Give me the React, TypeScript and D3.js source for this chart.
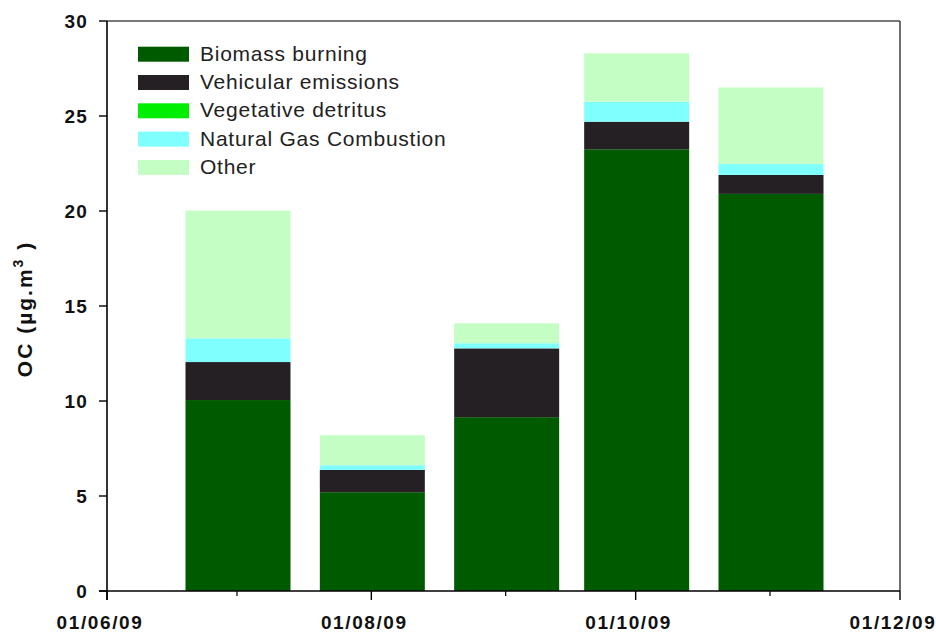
import React from 'react';
import * as d3 from 'd3';

// Sampling dates (one stacked bar per month)
const sampleDates = ['2009-07-01', '2009-08-01', '2009-09-01', '2009-10-01', '2009-11-01'];

// Source contributions to organic carbon (µg/m³)
const biomassBurning = [10.05, 5.2, 9.15, 23.25, 20.9];
const vehicularEmissions = [2.0, 1.17, 3.62, 1.45, 1.0];
const vegetativeDetritus = [0, 0, 0, 0, 0];
const naturalGasCombustion = [1.25, 0.25, 0.27, 1.05, 0.57];
const otherSources = [6.72, 1.58, 1.05, 2.55, 4.03];

const seriesNames = [
  'Biomass burning',
  'Vehicular emissions',
  'Vegetative detritus',
  'Natural Gas Combustion',
  'Other',
];
const seriesColors = ['#005a00', '#242024', '#00ee00', '#80ffff', '#c4fec4'];

const yTicks = [0, 5, 10, 15, 20, 25, 30];
const xMajorTicks = ['2009-06-01', '2009-08-01', '2009-10-01', '2009-12-01'];
const xMinorTicks = ['2009-07-01', '2009-09-01', '2009-11-01'];
const xDomain = ['2009-06-01', '2009-12-01'];

const W = 936;
const H = 634;
const left = 107;
const right = 900;
const top = 21;
const bottom = 591;
const barWidth = 105;
const font = '"Liberation Sans", Arial, Helvetica, sans-serif';

export default function App() {
  const x = d3
    .scaleUtc()
    .domain(xDomain.map((d) => new Date(d)))
    .range([left, right]);
  const y = d3.scaleLinear().domain([0, 30]).range([bottom, top]);

  const allSeries = [biomassBurning, vehicularEmissions, vegetativeDetritus, naturalGasCombustion, otherSources];
  const table = sampleDates.map((d, i) => {
    const row: Record<string, any> = { date: new Date(d) };
    seriesNames.forEach((name, k) => {
      row[name] = allSeries[k][i];
    });
    return row;
  });
  const stacked = d3.stack<any>().keys(seriesNames)(table);
  const fmt = d3.utcFormat('%d/%m/%y');

  return (
    <svg
      width={W}
      height={H}
      style={{ position: 'absolute', left: 0, top: 0, background: '#fff' }}
      fontFamily={font}
    >
      <rect x={0} y={0} width={W} height={H} fill="#fff" />

      {/* stacked bars */}
      {stacked.map((layer, k) => (
        <g key={layer.key} fill={seriesColors[k]}>
          {layer.map((seg, i) => {
            const h = y(seg[0]) - y(seg[1]);
            if (h <= 0) return null;
            const cx = x(seg.data.date) + 1;
            return (
              <rect
                key={i}
                x={cx - barWidth / 2}
                y={y(seg[1])}
                width={barWidth}
                height={h}
              />
            );
          })}
        </g>
      ))}

      {/* frame */}
      <line x1={left} x2={right} y1={top} y2={top} stroke="#4a4a4a" strokeWidth={1.6} />
      <line x1={right} x2={right} y1={top} y2={bottom} stroke="#4a4a4a" strokeWidth={1.6} />
      <line x1={left} x2={left} y1={top} y2={bottom + 9} stroke="#000" strokeWidth={1.6} />
      <line x1={left - 8} x2={right} y1={bottom} y2={bottom} stroke="#000" strokeWidth={1.6} />

      {/* y axis */}
      {yTicks.map((t) => (
        <g key={t}>
          <line x1={left - 8} x2={left} y1={y(t)} y2={y(t)} stroke="#000" strokeWidth={1.4} />
          <text
            x={88}
            y={y(t) + 7}
            textAnchor="end"
            fontSize={19}
            fontWeight="bold"
            letterSpacing={1.2}
            fill="#111"
          >
            {t}
          </text>
        </g>
      ))}
      <text
        transform={`translate(32, ${(top + bottom) / 2 + 3}) rotate(-90)`}
        textAnchor="middle"
        fontSize={21}
        fontWeight="bold"
        letterSpacing={2}
        fill="#111"
      >
        OC (µg.m
        <tspan dy={-9} fontSize={14}>3</tspan>
        <tspan dy={9}> )</tspan>
      </text>

      {/* x axis */}
      {xMajorTicks.map((d) => {
        const px = x(new Date(d));
        return (
          <g key={d}>
            <line x1={px} x2={px} y1={bottom} y2={bottom + 9} stroke="#000" strokeWidth={1.4} />
            <text
              x={px - 7}
              y={629}
              textAnchor="middle"
              fontSize={19}
              fontWeight="bold"
              letterSpacing={1.6}
              fill="#111"
            >
              {fmt(new Date(d))}
            </text>
          </g>
        );
      })}
      {xMinorTicks.map((d) => {
        const px = x(new Date(d));
        return <line key={d} x1={px} x2={px} y1={bottom} y2={bottom + 5} stroke="#000" strokeWidth={1.2} />;
      })}

      {/* legend */}
      {seriesNames.map((name, k) => {
        const base = 60.7 + k * 28.3;
        return (
          <g key={name}>
            <rect x={138} y={base - 14} width={51} height={15} fill={seriesColors[k]} />
            <text x={200} y={base} fontSize={21} letterSpacing={0.75} fill="#222">
              {name}
            </text>
          </g>
        );
      })}
    </svg>
  );
}
